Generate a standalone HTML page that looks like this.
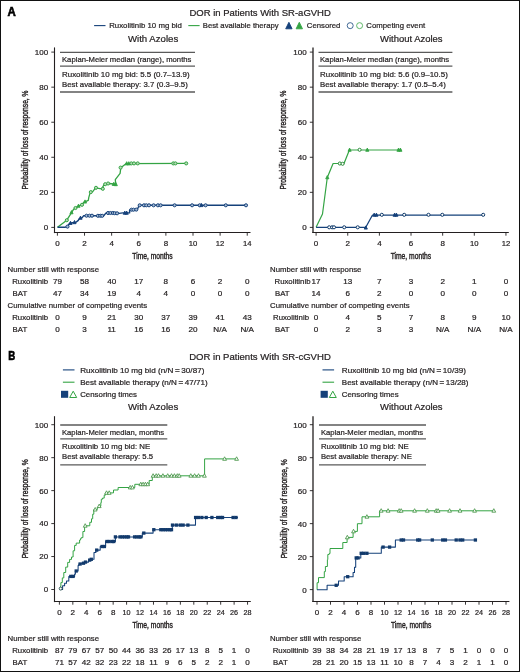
<!DOCTYPE html><html><head><meta charset="utf-8"><style>html,body{margin:0;padding:0;background:#fff;}svg{display:block;will-change:transform;}</style></head><body>
<svg width="520" height="672" viewBox="0 0 520 672" font-family='"Liberation Sans", sans-serif'>
<rect x="0" y="0" width="520" height="672" fill="#fff"/>
<rect x="0.5" y="0.5" width="519" height="671" fill="none" stroke="#111" stroke-width="1"/>
<text x="7.40" y="15.70" font-size="12.2" text-anchor="start" font-weight="bold" fill="#000" stroke="#000" stroke-width="0.6"  textLength="8.30" lengthAdjust="spacingAndGlyphs">A</text>
<text x="189.50" y="15.60" font-size="9.5" text-anchor="start" font-weight="normal" fill="#231f20" stroke="#231f20" stroke-width="0.22"  textLength="141.31" lengthAdjust="spacingAndGlyphs">DOR in Patients With SR-aGVHD</text>
<line x1="94.10" y1="25.60" x2="105.50" y2="25.60" stroke="#15417a" stroke-width="1.1"/>
<text x="109.20" y="27.90" font-size="8.1" text-anchor="start" font-weight="normal" fill="#231f20" stroke="#231f20" stroke-width="0.22"  textLength="72.70" lengthAdjust="spacingAndGlyphs">Ruxolitinib 10 mg bid</text>
<line x1="188.30" y1="25.60" x2="199.60" y2="25.60" stroke="#34a444" stroke-width="1.1"/>
<text x="202.80" y="27.90" font-size="8.1" text-anchor="start" font-weight="normal" fill="#231f20" stroke="#231f20" stroke-width="0.22"  textLength="75.80" lengthAdjust="spacingAndGlyphs">Best available therapy</text>
<path d="M285.71,28.80 L288.90,22.30 L292.08,28.80 Z" fill="#15417a" stroke="#15417a" stroke-width="0.9" stroke-linejoin="round"/>
<path d="M296.12,28.80 L299.30,22.30 L302.49,28.80 Z" fill="#34a444" stroke="#34a444" stroke-width="0.9" stroke-linejoin="round"/>
<text x="306.80" y="27.90" font-size="8.1" text-anchor="start" font-weight="normal" fill="#231f20" stroke="#231f20" stroke-width="0.22"  textLength="33.61" lengthAdjust="spacingAndGlyphs">Censored</text>
<circle cx="350.20" cy="25.65" r="3.0" fill="#fff" stroke="#2f5a8a" stroke-width="0.9"/>
<circle cx="359.60" cy="25.65" r="3.0" fill="#fff" stroke="#4fb05a" stroke-width="0.9"/>
<text x="366.30" y="27.90" font-size="8.1" text-anchor="start" font-weight="normal" fill="#231f20" stroke="#231f20" stroke-width="0.22"  textLength="58.90" lengthAdjust="spacingAndGlyphs">Competing event</text>
<text x="128.00" y="41.70" font-size="9.5" text-anchor="start" font-weight="normal" fill="#231f20" stroke="#231f20" stroke-width="0.22"  textLength="50.19" lengthAdjust="spacingAndGlyphs">With Azoles</text>
<text x="380.00" y="41.70" font-size="9.5" text-anchor="start" font-weight="normal" fill="#231f20" stroke="#231f20" stroke-width="0.22"  textLength="62.60" lengthAdjust="spacingAndGlyphs">Without Azoles</text>
<line x1="54.50" y1="47.40" x2="54.50" y2="233.10" stroke="#231f20" stroke-width="1.1"/>
<line x1="53.95" y1="232.50" x2="250.50" y2="232.50" stroke="#231f20" stroke-width="1.15"/>
<line x1="51.30" y1="227.40" x2="54.50" y2="227.40" stroke="#231f20" stroke-width="0.9"/>
<text x="48.10" y="230.30" font-size="8.0" text-anchor="end" font-weight="normal" fill="#231f20" stroke="#231f20" stroke-width="0.22" >0</text>
<line x1="51.30" y1="192.34" x2="54.50" y2="192.34" stroke="#231f20" stroke-width="0.9"/>
<text x="48.10" y="195.24" font-size="8.0" text-anchor="end" font-weight="normal" fill="#231f20" stroke="#231f20" stroke-width="0.22" >20</text>
<line x1="51.30" y1="157.28" x2="54.50" y2="157.28" stroke="#231f20" stroke-width="0.9"/>
<text x="48.10" y="160.18" font-size="8.0" text-anchor="end" font-weight="normal" fill="#231f20" stroke="#231f20" stroke-width="0.22" >40</text>
<line x1="51.30" y1="122.22" x2="54.50" y2="122.22" stroke="#231f20" stroke-width="0.9"/>
<text x="48.10" y="125.12" font-size="8.0" text-anchor="end" font-weight="normal" fill="#231f20" stroke="#231f20" stroke-width="0.22" >60</text>
<line x1="51.30" y1="87.16" x2="54.50" y2="87.16" stroke="#231f20" stroke-width="0.9"/>
<text x="48.10" y="90.06" font-size="8.0" text-anchor="end" font-weight="normal" fill="#231f20" stroke="#231f20" stroke-width="0.22" >80</text>
<line x1="51.30" y1="52.10" x2="54.50" y2="52.10" stroke="#231f20" stroke-width="0.9"/>
<text x="48.10" y="55.00" font-size="8.0" text-anchor="end" font-weight="normal" fill="#231f20" stroke="#231f20" stroke-width="0.22" >100</text>
<line x1="57.40" y1="232.50" x2="57.40" y2="235.70" stroke="#231f20" stroke-width="0.9"/>
<text x="57.40" y="245.65" font-size="8.0" text-anchor="middle" font-weight="normal" fill="#231f20" stroke="#231f20" stroke-width="0.22" >0</text>
<line x1="84.52" y1="232.50" x2="84.52" y2="235.70" stroke="#231f20" stroke-width="0.9"/>
<text x="84.52" y="245.65" font-size="8.0" text-anchor="middle" font-weight="normal" fill="#231f20" stroke="#231f20" stroke-width="0.22" >2</text>
<line x1="111.64" y1="232.50" x2="111.64" y2="235.70" stroke="#231f20" stroke-width="0.9"/>
<text x="111.64" y="245.65" font-size="8.0" text-anchor="middle" font-weight="normal" fill="#231f20" stroke="#231f20" stroke-width="0.22" >4</text>
<line x1="138.76" y1="232.50" x2="138.76" y2="235.70" stroke="#231f20" stroke-width="0.9"/>
<text x="138.76" y="245.65" font-size="8.0" text-anchor="middle" font-weight="normal" fill="#231f20" stroke="#231f20" stroke-width="0.22" >6</text>
<line x1="165.88" y1="232.50" x2="165.88" y2="235.70" stroke="#231f20" stroke-width="0.9"/>
<text x="165.88" y="245.65" font-size="8.0" text-anchor="middle" font-weight="normal" fill="#231f20" stroke="#231f20" stroke-width="0.22" >8</text>
<line x1="193.00" y1="232.50" x2="193.00" y2="235.70" stroke="#231f20" stroke-width="0.9"/>
<text x="193.00" y="245.65" font-size="8.0" text-anchor="middle" font-weight="normal" fill="#231f20" stroke="#231f20" stroke-width="0.22" textLength="8.54" lengthAdjust="spacingAndGlyphs">10</text>
<line x1="220.12" y1="232.50" x2="220.12" y2="235.70" stroke="#231f20" stroke-width="0.9"/>
<text x="220.12" y="245.65" font-size="8.0" text-anchor="middle" font-weight="normal" fill="#231f20" stroke="#231f20" stroke-width="0.22" textLength="8.54" lengthAdjust="spacingAndGlyphs">12</text>
<line x1="247.24" y1="232.50" x2="247.24" y2="235.70" stroke="#231f20" stroke-width="0.9"/>
<text x="247.24" y="245.65" font-size="8.0" text-anchor="middle" font-weight="normal" fill="#231f20" stroke="#231f20" stroke-width="0.22" textLength="8.54" lengthAdjust="spacingAndGlyphs">14</text>
<text x="152.50" y="258.70" font-size="8.8" text-anchor="middle" font-weight="normal" fill="#231f20" stroke="#231f20" stroke-width="0.4" textLength="40.4" lengthAdjust="spacingAndGlyphs">Time, months</text>
<g transform="translate(27.70,139.95) rotate(-90)">
<text x="0.00" y="0.00" font-size="8.5" text-anchor="middle" font-weight="normal" fill="#231f20" stroke="#231f20" stroke-width="0.4" textLength="99" lengthAdjust="spacingAndGlyphs">Probability of loss of response, %</text>
</g>
<line x1="313.00" y1="47.40" x2="313.00" y2="233.10" stroke="#231f20" stroke-width="1.3"/>
<line x1="312.35" y1="232.50" x2="508.80" y2="232.50" stroke="#231f20" stroke-width="1.15"/>
<line x1="309.80" y1="227.40" x2="313.00" y2="227.40" stroke="#231f20" stroke-width="0.9"/>
<text x="306.60" y="230.30" font-size="8.0" text-anchor="end" font-weight="normal" fill="#231f20" stroke="#231f20" stroke-width="0.22" >0</text>
<line x1="309.80" y1="192.34" x2="313.00" y2="192.34" stroke="#231f20" stroke-width="0.9"/>
<text x="306.60" y="195.24" font-size="8.0" text-anchor="end" font-weight="normal" fill="#231f20" stroke="#231f20" stroke-width="0.22" >20</text>
<line x1="309.80" y1="157.28" x2="313.00" y2="157.28" stroke="#231f20" stroke-width="0.9"/>
<text x="306.60" y="160.18" font-size="8.0" text-anchor="end" font-weight="normal" fill="#231f20" stroke="#231f20" stroke-width="0.22" >40</text>
<line x1="309.80" y1="122.22" x2="313.00" y2="122.22" stroke="#231f20" stroke-width="0.9"/>
<text x="306.60" y="125.12" font-size="8.0" text-anchor="end" font-weight="normal" fill="#231f20" stroke="#231f20" stroke-width="0.22" >60</text>
<line x1="309.80" y1="87.16" x2="313.00" y2="87.16" stroke="#231f20" stroke-width="0.9"/>
<text x="306.60" y="90.06" font-size="8.0" text-anchor="end" font-weight="normal" fill="#231f20" stroke="#231f20" stroke-width="0.22" >80</text>
<line x1="309.80" y1="52.10" x2="313.00" y2="52.10" stroke="#231f20" stroke-width="0.9"/>
<text x="306.60" y="55.00" font-size="8.0" text-anchor="end" font-weight="normal" fill="#231f20" stroke="#231f20" stroke-width="0.22" >100</text>
<line x1="316.10" y1="232.50" x2="316.10" y2="235.70" stroke="#231f20" stroke-width="0.9"/>
<text x="316.10" y="245.65" font-size="8.0" text-anchor="middle" font-weight="normal" fill="#231f20" stroke="#231f20" stroke-width="0.22" >0</text>
<line x1="347.74" y1="232.50" x2="347.74" y2="235.70" stroke="#231f20" stroke-width="0.9"/>
<text x="347.74" y="245.65" font-size="8.0" text-anchor="middle" font-weight="normal" fill="#231f20" stroke="#231f20" stroke-width="0.22" >2</text>
<line x1="379.38" y1="232.50" x2="379.38" y2="235.70" stroke="#231f20" stroke-width="0.9"/>
<text x="379.38" y="245.65" font-size="8.0" text-anchor="middle" font-weight="normal" fill="#231f20" stroke="#231f20" stroke-width="0.22" >4</text>
<line x1="411.02" y1="232.50" x2="411.02" y2="235.70" stroke="#231f20" stroke-width="0.9"/>
<text x="411.02" y="245.65" font-size="8.0" text-anchor="middle" font-weight="normal" fill="#231f20" stroke="#231f20" stroke-width="0.22" >6</text>
<line x1="442.66" y1="232.50" x2="442.66" y2="235.70" stroke="#231f20" stroke-width="0.9"/>
<text x="442.66" y="245.65" font-size="8.0" text-anchor="middle" font-weight="normal" fill="#231f20" stroke="#231f20" stroke-width="0.22" >8</text>
<line x1="474.30" y1="232.50" x2="474.30" y2="235.70" stroke="#231f20" stroke-width="0.9"/>
<text x="474.30" y="245.65" font-size="8.0" text-anchor="middle" font-weight="normal" fill="#231f20" stroke="#231f20" stroke-width="0.22" textLength="8.54" lengthAdjust="spacingAndGlyphs">10</text>
<line x1="505.94" y1="232.50" x2="505.94" y2="235.70" stroke="#231f20" stroke-width="0.9"/>
<text x="505.94" y="245.65" font-size="8.0" text-anchor="middle" font-weight="normal" fill="#231f20" stroke="#231f20" stroke-width="0.22" textLength="8.54" lengthAdjust="spacingAndGlyphs">12</text>
<text x="410.90" y="258.70" font-size="8.8" text-anchor="middle" font-weight="normal" fill="#231f20" stroke="#231f20" stroke-width="0.4" textLength="40.4" lengthAdjust="spacingAndGlyphs">Time, months</text>
<g transform="translate(286.40,139.95) rotate(-90)">
<text x="0.00" y="0.00" font-size="8.5" text-anchor="middle" font-weight="normal" fill="#231f20" stroke="#231f20" stroke-width="0.4" textLength="99" lengthAdjust="spacingAndGlyphs">Probability of loss of response, %</text>
</g>
<line x1="60.00" y1="52.30" x2="195.00" y2="52.30" stroke="#5a5a5a" stroke-width="1.3"/>
<line x1="60.00" y1="66.20" x2="195.00" y2="66.20" stroke="#5a5a5a" stroke-width="1.3"/>
<line x1="60.00" y1="92.00" x2="195.00" y2="92.00" stroke="#5a5a5a" stroke-width="1.3"/>
<text x="62.00" y="61.80" font-size="8.1" text-anchor="start" font-weight="normal" fill="#231f20" stroke="#231f20" stroke-width="0.22"  textLength="129.39" lengthAdjust="spacingAndGlyphs">Kaplan-Meier median (range), months</text>
<text x="62.00" y="76.90" font-size="8.1" text-anchor="start" font-weight="normal" fill="#231f20" stroke="#231f20" stroke-width="0.22"  textLength="127.60" lengthAdjust="spacingAndGlyphs">Ruxolitinib 10 mg bid: 5.5 (0.7–13.9)</text>
<text x="62.00" y="86.50" font-size="8.1" text-anchor="start" font-weight="normal" fill="#231f20" stroke="#231f20" stroke-width="0.22"  textLength="125.81" lengthAdjust="spacingAndGlyphs">Best available therapy: 3.7 (0.3–9.5)</text>
<line x1="318.50" y1="52.30" x2="452.40" y2="52.30" stroke="#5a5a5a" stroke-width="1.3"/>
<line x1="318.50" y1="66.20" x2="452.40" y2="66.20" stroke="#5a5a5a" stroke-width="1.3"/>
<line x1="318.50" y1="92.00" x2="452.40" y2="92.00" stroke="#5a5a5a" stroke-width="1.3"/>
<text x="320.00" y="61.80" font-size="8.1" text-anchor="start" font-weight="normal" fill="#231f20" stroke="#231f20" stroke-width="0.22"  textLength="129.19" lengthAdjust="spacingAndGlyphs">Kaplan-Meier median (range), months</text>
<text x="320.00" y="76.90" font-size="8.1" text-anchor="start" font-weight="normal" fill="#231f20" stroke="#231f20" stroke-width="0.22"  textLength="127.80" lengthAdjust="spacingAndGlyphs">Ruxolitinib 10 mg bid: 5.6 (0.9–10.5)</text>
<text x="320.00" y="86.50" font-size="8.1" text-anchor="start" font-weight="normal" fill="#231f20" stroke="#231f20" stroke-width="0.22"  textLength="125.81" lengthAdjust="spacingAndGlyphs">Best available therapy: 1.7 (0.5–5.4)</text>
<path d="M57.50,227.30 L66.80,220.20 L69.50,215.80 L73.70,209.20 L76.40,207.30 L79.10,205.80 L82.20,204.60 L83.70,202.30 L88.30,200.30 L88.80,197.40 L90.30,192.10 L92.70,191.70 L95.60,187.80 L98.50,188.30 L101.80,188.80 L104.20,184.40 L109.00,183.50 L113.80,184.00 L115.80,184.90 L115.30,179.60 L120.10,173.40 L120.60,169.10 L121.10,167.60 L126.30,163.60 L187.30,163.40" fill="none" stroke="#34a444" stroke-width="1.3" stroke-linejoin="round"/>
<path d="M57.50,227.30 L64.80,227.30 L67.50,226.50 L69.50,223.50 L72.50,222.70 L76.00,222.30 L78.30,220.40 L79.10,218.80 L82.20,217.70 L83.70,215.60 L103.70,215.80 L106.10,212.90 L119.00,213.40 L122.90,212.90 L129.60,212.90 L129.60,210.00 L137.30,209.50 L139.20,205.30 L246.00,205.30" fill="none" stroke="#15417a" stroke-width="1.4" stroke-linejoin="round"/>
<circle cx="66.80" cy="220.20" r="1.55" fill="#b9dcb9" stroke="#34a444" stroke-width="1.0"/>
<circle cx="75.50" cy="208.00" r="1.55" fill="#b9dcb9" stroke="#34a444" stroke-width="1.0"/>
<circle cx="82.00" cy="204.80" r="1.55" fill="#b9dcb9" stroke="#34a444" stroke-width="1.0"/>
<circle cx="90.80" cy="192.10" r="1.55" fill="#b9dcb9" stroke="#34a444" stroke-width="1.0"/>
<circle cx="96.00" cy="187.80" r="1.55" fill="#b9dcb9" stroke="#34a444" stroke-width="1.0"/>
<circle cx="102.80" cy="188.80" r="1.55" fill="#b9dcb9" stroke="#34a444" stroke-width="1.0"/>
<circle cx="105.20" cy="184.20" r="1.55" fill="#b9dcb9" stroke="#34a444" stroke-width="1.0"/>
<circle cx="108.10" cy="183.50" r="1.55" fill="#b9dcb9" stroke="#34a444" stroke-width="1.0"/>
<circle cx="120.60" cy="167.60" r="1.55" fill="#b9dcb9" stroke="#34a444" stroke-width="1.0"/>
<circle cx="131.30" cy="163.40" r="1.55" fill="#b9dcb9" stroke="#34a444" stroke-width="1.0"/>
<circle cx="134.00" cy="163.40" r="1.55" fill="#b9dcb9" stroke="#34a444" stroke-width="1.0"/>
<circle cx="137.70" cy="163.40" r="1.55" fill="#b9dcb9" stroke="#34a444" stroke-width="1.0"/>
<circle cx="173.30" cy="163.40" r="1.55" fill="#b9dcb9" stroke="#34a444" stroke-width="1.0"/>
<circle cx="175.40" cy="163.40" r="1.55" fill="#b9dcb9" stroke="#34a444" stroke-width="1.0"/>
<circle cx="186.20" cy="163.40" r="1.55" fill="#b9dcb9" stroke="#34a444" stroke-width="1.0"/>
<path d="M69.93,213.78 L71.50,210.58 L73.07,213.78 Z" fill="#34a444" stroke="#34a444" stroke-width="0.9" stroke-linejoin="round"/>
<path d="M76.93,207.28 L78.50,204.08 L80.07,207.28 Z" fill="#34a444" stroke="#34a444" stroke-width="0.9" stroke-linejoin="round"/>
<path d="M83.43,203.08 L85.00,199.88 L86.57,203.08 Z" fill="#34a444" stroke="#34a444" stroke-width="0.9" stroke-linejoin="round"/>
<path d="M112.23,185.48 L113.80,182.28 L115.37,185.48 Z" fill="#34a444" stroke="#34a444" stroke-width="0.9" stroke-linejoin="round"/>
<path d="M114.23,185.68 L115.80,182.48 L117.37,185.68 Z" fill="#34a444" stroke="#34a444" stroke-width="0.9" stroke-linejoin="round"/>
<path d="M125.13,164.88 L126.70,161.68 L128.27,164.88 Z" fill="#34a444" stroke="#34a444" stroke-width="0.9" stroke-linejoin="round"/>
<path d="M127.23,164.88 L128.80,161.68 L130.37,164.88 Z" fill="#34a444" stroke="#34a444" stroke-width="0.9" stroke-linejoin="round"/>
<circle cx="67.50" cy="226.60" r="1.55" fill="#a9bdd6" stroke="#15417a" stroke-width="1.0"/>
<circle cx="86.50" cy="215.70" r="1.55" fill="#a9bdd6" stroke="#15417a" stroke-width="1.0"/>
<circle cx="89.50" cy="215.70" r="1.55" fill="#a9bdd6" stroke="#15417a" stroke-width="1.0"/>
<circle cx="92.00" cy="215.70" r="1.55" fill="#a9bdd6" stroke="#15417a" stroke-width="1.0"/>
<circle cx="97.90" cy="215.80" r="1.55" fill="#a9bdd6" stroke="#15417a" stroke-width="1.0"/>
<circle cx="100.30" cy="215.80" r="1.55" fill="#a9bdd6" stroke="#15417a" stroke-width="1.0"/>
<circle cx="102.20" cy="215.80" r="1.55" fill="#a9bdd6" stroke="#15417a" stroke-width="1.0"/>
<circle cx="108.00" cy="213.00" r="1.55" fill="#a9bdd6" stroke="#15417a" stroke-width="1.0"/>
<circle cx="110.40" cy="213.00" r="1.55" fill="#a9bdd6" stroke="#15417a" stroke-width="1.0"/>
<circle cx="112.80" cy="213.00" r="1.55" fill="#a9bdd6" stroke="#15417a" stroke-width="1.0"/>
<circle cx="114.70" cy="213.20" r="1.55" fill="#a9bdd6" stroke="#15417a" stroke-width="1.0"/>
<circle cx="117.10" cy="213.30" r="1.55" fill="#a9bdd6" stroke="#15417a" stroke-width="1.0"/>
<circle cx="131.50" cy="209.70" r="1.55" fill="#a9bdd6" stroke="#15417a" stroke-width="1.0"/>
<circle cx="133.50" cy="209.70" r="1.55" fill="#a9bdd6" stroke="#15417a" stroke-width="1.0"/>
<circle cx="136.30" cy="209.60" r="1.55" fill="#a9bdd6" stroke="#15417a" stroke-width="1.0"/>
<circle cx="139.70" cy="205.30" r="1.55" fill="#a9bdd6" stroke="#15417a" stroke-width="1.0"/>
<circle cx="144.00" cy="205.30" r="1.55" fill="#a9bdd6" stroke="#15417a" stroke-width="1.0"/>
<circle cx="146.30" cy="205.30" r="1.55" fill="#a9bdd6" stroke="#15417a" stroke-width="1.0"/>
<circle cx="149.00" cy="205.30" r="1.55" fill="#a9bdd6" stroke="#15417a" stroke-width="1.0"/>
<circle cx="153.60" cy="205.30" r="1.55" fill="#a9bdd6" stroke="#15417a" stroke-width="1.0"/>
<circle cx="157.90" cy="205.30" r="1.55" fill="#a9bdd6" stroke="#15417a" stroke-width="1.0"/>
<circle cx="160.60" cy="205.30" r="1.55" fill="#a9bdd6" stroke="#15417a" stroke-width="1.0"/>
<circle cx="174.60" cy="205.30" r="1.55" fill="#a9bdd6" stroke="#15417a" stroke-width="1.0"/>
<circle cx="192.10" cy="205.30" r="1.55" fill="#a9bdd6" stroke="#15417a" stroke-width="1.0"/>
<circle cx="199.70" cy="205.30" r="1.55" fill="#a9bdd6" stroke="#15417a" stroke-width="1.0"/>
<circle cx="205.60" cy="205.30" r="1.55" fill="#a9bdd6" stroke="#15417a" stroke-width="1.0"/>
<circle cx="225.80" cy="205.30" r="1.55" fill="#a9bdd6" stroke="#15417a" stroke-width="1.0"/>
<circle cx="246.00" cy="205.30" r="1.55" fill="#a9bdd6" stroke="#15417a" stroke-width="1.0"/>
<path d="M68.93,224.48 L70.50,221.28 L72.07,224.48 Z" fill="#15417a" stroke="#15417a" stroke-width="0.9" stroke-linejoin="round"/>
<path d="M72.93,223.68 L74.50,220.48 L76.07,223.68 Z" fill="#15417a" stroke="#15417a" stroke-width="0.9" stroke-linejoin="round"/>
<path d="M78.93,219.28 L80.50,216.08 L82.07,219.28 Z" fill="#15417a" stroke="#15417a" stroke-width="0.9" stroke-linejoin="round"/>
<path d="M123.23,214.28 L124.80,211.08 L126.37,214.28 Z" fill="#15417a" stroke="#15417a" stroke-width="0.9" stroke-linejoin="round"/>
<path d="M125.13,214.28 L126.70,211.08 L128.27,214.28 Z" fill="#15417a" stroke="#15417a" stroke-width="0.9" stroke-linejoin="round"/>
<path d="M199.93,206.58 L201.50,203.38 L203.07,206.58 Z" fill="#15417a" stroke="#15417a" stroke-width="0.9" stroke-linejoin="round"/>
<path d="M316.10,227.30 L322.50,214.00 L327.30,177.50 L333.10,163.50 L344.00,163.50 L349.40,150.00 L401.30,150.00" fill="none" stroke="#34a444" stroke-width="1.2" stroke-linejoin="round"/>
<path d="M316.10,227.30 L365.80,227.30 L372.50,215.00 L483.20,215.00" fill="none" stroke="#15417a" stroke-width="1.25" stroke-linejoin="round"/>
<path d="M325.73,178.78 L327.30,175.58 L328.87,178.78 Z" fill="#34a444" stroke="#34a444" stroke-width="0.9" stroke-linejoin="round"/>
<circle cx="339.80" cy="163.50" r="1.55" fill="#fff" stroke="#2a8a38" stroke-width="1.0"/>
<circle cx="342.60" cy="163.80" r="1.55" fill="#fff" stroke="#2a8a38" stroke-width="1.0"/>
<path d="M348.03,151.28 L349.60,148.08 L351.17,151.28 Z" fill="#34a444" stroke="#34a444" stroke-width="0.9" stroke-linejoin="round"/>
<circle cx="359.60" cy="149.80" r="1.55" fill="#fff" stroke="#2a8a38" stroke-width="1.0"/>
<path d="M365.73,151.28 L367.30,148.08 L368.87,151.28 Z" fill="#34a444" stroke="#34a444" stroke-width="0.9" stroke-linejoin="round"/>
<path d="M396.93,151.28 L398.50,148.08 L400.07,151.28 Z" fill="#34a444" stroke="#34a444" stroke-width="0.9" stroke-linejoin="round"/>
<path d="M398.83,151.28 L400.40,148.08 L401.97,151.28 Z" fill="#34a444" stroke="#34a444" stroke-width="0.9" stroke-linejoin="round"/>
<circle cx="329.20" cy="227.30" r="1.55" fill="#fff" stroke="#0f3a6a" stroke-width="1.0"/>
<circle cx="332.10" cy="227.30" r="1.55" fill="#fff" stroke="#0f3a6a" stroke-width="1.0"/>
<circle cx="334.00" cy="227.30" r="1.55" fill="#fff" stroke="#0f3a6a" stroke-width="1.0"/>
<circle cx="344.20" cy="227.30" r="1.55" fill="#fff" stroke="#0f3a6a" stroke-width="1.0"/>
<circle cx="357.70" cy="227.30" r="1.55" fill="#fff" stroke="#0f3a6a" stroke-width="1.0"/>
<path d="M364.23,229.08 L365.80,225.88 L367.37,229.08 Z" fill="#15417a" stroke="#15417a" stroke-width="0.9" stroke-linejoin="round"/>
<path d="M372.63,216.28 L374.20,213.08 L375.77,216.28 Z" fill="#15417a" stroke="#15417a" stroke-width="0.9" stroke-linejoin="round"/>
<path d="M374.83,216.28 L376.40,213.08 L377.97,216.28 Z" fill="#15417a" stroke="#15417a" stroke-width="0.9" stroke-linejoin="round"/>
<circle cx="381.80" cy="214.80" r="1.55" fill="#fff" stroke="#0f3a6a" stroke-width="1.0"/>
<path d="M393.03,216.28 L394.60,213.08 L396.17,216.28 Z" fill="#15417a" stroke="#15417a" stroke-width="0.9" stroke-linejoin="round"/>
<path d="M394.83,216.28 L396.40,213.08 L397.97,216.28 Z" fill="#15417a" stroke="#15417a" stroke-width="0.9" stroke-linejoin="round"/>
<circle cx="404.20" cy="214.80" r="1.55" fill="#fff" stroke="#0f3a6a" stroke-width="1.0"/>
<circle cx="428.50" cy="214.80" r="1.55" fill="#fff" stroke="#0f3a6a" stroke-width="1.0"/>
<circle cx="442.30" cy="214.80" r="1.55" fill="#fff" stroke="#0f3a6a" stroke-width="1.0"/>
<circle cx="483.20" cy="214.80" r="1.55" fill="#fff" stroke="#0f3a6a" stroke-width="1.0"/>
<text x="7.60" y="271.50" font-size="8.1" text-anchor="start" font-weight="normal" fill="#231f20" stroke="#231f20" stroke-width="0.22" textLength="91.47" lengthAdjust="spacingAndGlyphs">Number still with response</text>
<text x="7.60" y="307.80" font-size="8.1" text-anchor="start" font-weight="normal" fill="#231f20" stroke="#231f20" stroke-width="0.22" textLength="139.61" lengthAdjust="spacingAndGlyphs">Cumulative number of competing events</text>
<text x="270.00" y="271.50" font-size="8.1" text-anchor="start" font-weight="normal" fill="#231f20" stroke="#231f20" stroke-width="0.22" textLength="91.47" lengthAdjust="spacingAndGlyphs">Number still with response</text>
<text x="270.00" y="307.80" font-size="8.1" text-anchor="start" font-weight="normal" fill="#231f20" stroke="#231f20" stroke-width="0.22" textLength="139.61" lengthAdjust="spacingAndGlyphs">Cumulative number of competing events</text>
<text x="12.20" y="283.70" font-size="8.1" text-anchor="start" font-weight="normal" fill="#231f20" stroke="#231f20" stroke-width="0.22" textLength="35.99" lengthAdjust="spacingAndGlyphs">Ruxolitinib</text>
<text x="57.40" y="283.70" font-size="8.1" text-anchor="middle" font-weight="normal" fill="#231f20" stroke="#231f20" stroke-width="0.22" >79</text>
<text x="84.52" y="283.70" font-size="8.1" text-anchor="middle" font-weight="normal" fill="#231f20" stroke="#231f20" stroke-width="0.22" >58</text>
<text x="111.64" y="283.70" font-size="8.1" text-anchor="middle" font-weight="normal" fill="#231f20" stroke="#231f20" stroke-width="0.22" >40</text>
<text x="138.76" y="283.70" font-size="8.1" text-anchor="middle" font-weight="normal" fill="#231f20" stroke="#231f20" stroke-width="0.22" >17</text>
<text x="165.88" y="283.70" font-size="8.1" text-anchor="middle" font-weight="normal" fill="#231f20" stroke="#231f20" stroke-width="0.22" >8</text>
<text x="193.00" y="283.70" font-size="8.1" text-anchor="middle" font-weight="normal" fill="#231f20" stroke="#231f20" stroke-width="0.22" >6</text>
<text x="220.12" y="283.70" font-size="8.1" text-anchor="middle" font-weight="normal" fill="#231f20" stroke="#231f20" stroke-width="0.22" >2</text>
<text x="247.24" y="283.70" font-size="8.1" text-anchor="middle" font-weight="normal" fill="#231f20" stroke="#231f20" stroke-width="0.22" >0</text>
<text x="12.60" y="295.60" font-size="8.1" text-anchor="start" font-weight="normal" fill="#231f20" stroke="#231f20" stroke-width="0.22" textLength="14.59" lengthAdjust="spacingAndGlyphs">BAT</text>
<text x="57.40" y="295.60" font-size="8.1" text-anchor="middle" font-weight="normal" fill="#231f20" stroke="#231f20" stroke-width="0.22" >47</text>
<text x="84.52" y="295.60" font-size="8.1" text-anchor="middle" font-weight="normal" fill="#231f20" stroke="#231f20" stroke-width="0.22" >34</text>
<text x="111.64" y="295.60" font-size="8.1" text-anchor="middle" font-weight="normal" fill="#231f20" stroke="#231f20" stroke-width="0.22" >19</text>
<text x="138.76" y="295.60" font-size="8.1" text-anchor="middle" font-weight="normal" fill="#231f20" stroke="#231f20" stroke-width="0.22" >4</text>
<text x="165.88" y="295.60" font-size="8.1" text-anchor="middle" font-weight="normal" fill="#231f20" stroke="#231f20" stroke-width="0.22" >4</text>
<text x="193.00" y="295.60" font-size="8.1" text-anchor="middle" font-weight="normal" fill="#231f20" stroke="#231f20" stroke-width="0.22" >0</text>
<text x="220.12" y="295.60" font-size="8.1" text-anchor="middle" font-weight="normal" fill="#231f20" stroke="#231f20" stroke-width="0.22" >0</text>
<text x="247.24" y="295.60" font-size="8.1" text-anchor="middle" font-weight="normal" fill="#231f20" stroke="#231f20" stroke-width="0.22" >0</text>
<text x="12.20" y="319.90" font-size="8.1" text-anchor="start" font-weight="normal" fill="#231f20" stroke="#231f20" stroke-width="0.22" textLength="35.99" lengthAdjust="spacingAndGlyphs">Ruxolitinib</text>
<text x="57.40" y="319.90" font-size="8.1" text-anchor="middle" font-weight="normal" fill="#231f20" stroke="#231f20" stroke-width="0.22" >0</text>
<text x="84.52" y="319.90" font-size="8.1" text-anchor="middle" font-weight="normal" fill="#231f20" stroke="#231f20" stroke-width="0.22" >9</text>
<text x="111.64" y="319.90" font-size="8.1" text-anchor="middle" font-weight="normal" fill="#231f20" stroke="#231f20" stroke-width="0.22" >21</text>
<text x="138.76" y="319.90" font-size="8.1" text-anchor="middle" font-weight="normal" fill="#231f20" stroke="#231f20" stroke-width="0.22" >30</text>
<text x="165.88" y="319.90" font-size="8.1" text-anchor="middle" font-weight="normal" fill="#231f20" stroke="#231f20" stroke-width="0.22" >37</text>
<text x="193.00" y="319.90" font-size="8.1" text-anchor="middle" font-weight="normal" fill="#231f20" stroke="#231f20" stroke-width="0.22" >39</text>
<text x="220.12" y="319.90" font-size="8.1" text-anchor="middle" font-weight="normal" fill="#231f20" stroke="#231f20" stroke-width="0.22" >41</text>
<text x="247.24" y="319.90" font-size="8.1" text-anchor="middle" font-weight="normal" fill="#231f20" stroke="#231f20" stroke-width="0.22" >43</text>
<text x="12.60" y="331.70" font-size="8.1" text-anchor="start" font-weight="normal" fill="#231f20" stroke="#231f20" stroke-width="0.22" textLength="14.59" lengthAdjust="spacingAndGlyphs">BAT</text>
<text x="57.40" y="331.70" font-size="8.1" text-anchor="middle" font-weight="normal" fill="#231f20" stroke="#231f20" stroke-width="0.22" >0</text>
<text x="84.52" y="331.70" font-size="8.1" text-anchor="middle" font-weight="normal" fill="#231f20" stroke="#231f20" stroke-width="0.22" >3</text>
<text x="111.64" y="331.70" font-size="8.1" text-anchor="middle" font-weight="normal" fill="#231f20" stroke="#231f20" stroke-width="0.22" >11</text>
<text x="138.76" y="331.70" font-size="8.1" text-anchor="middle" font-weight="normal" fill="#231f20" stroke="#231f20" stroke-width="0.22" >16</text>
<text x="165.88" y="331.70" font-size="8.1" text-anchor="middle" font-weight="normal" fill="#231f20" stroke="#231f20" stroke-width="0.22" >16</text>
<text x="193.00" y="331.70" font-size="8.1" text-anchor="middle" font-weight="normal" fill="#231f20" stroke="#231f20" stroke-width="0.22" >20</text>
<text x="220.12" y="331.70" font-size="8.1" text-anchor="middle" font-weight="normal" fill="#231f20" stroke="#231f20" stroke-width="0.22" >N/A</text>
<text x="247.24" y="331.70" font-size="8.1" text-anchor="middle" font-weight="normal" fill="#231f20" stroke="#231f20" stroke-width="0.22" >N/A</text>
<text x="274.50" y="283.70" font-size="8.1" text-anchor="start" font-weight="normal" fill="#231f20" stroke="#231f20" stroke-width="0.22" textLength="35.99" lengthAdjust="spacingAndGlyphs">Ruxolitinib</text>
<text x="316.10" y="283.70" font-size="8.1" text-anchor="middle" font-weight="normal" fill="#231f20" stroke="#231f20" stroke-width="0.22" >17</text>
<text x="347.74" y="283.70" font-size="8.1" text-anchor="middle" font-weight="normal" fill="#231f20" stroke="#231f20" stroke-width="0.22" >13</text>
<text x="379.38" y="283.70" font-size="8.1" text-anchor="middle" font-weight="normal" fill="#231f20" stroke="#231f20" stroke-width="0.22" >7</text>
<text x="411.02" y="283.70" font-size="8.1" text-anchor="middle" font-weight="normal" fill="#231f20" stroke="#231f20" stroke-width="0.22" >3</text>
<text x="442.66" y="283.70" font-size="8.1" text-anchor="middle" font-weight="normal" fill="#231f20" stroke="#231f20" stroke-width="0.22" >2</text>
<text x="474.30" y="283.70" font-size="8.1" text-anchor="middle" font-weight="normal" fill="#231f20" stroke="#231f20" stroke-width="0.22" >1</text>
<text x="505.94" y="283.70" font-size="8.1" text-anchor="middle" font-weight="normal" fill="#231f20" stroke="#231f20" stroke-width="0.22" >0</text>
<text x="275.00" y="295.60" font-size="8.1" text-anchor="start" font-weight="normal" fill="#231f20" stroke="#231f20" stroke-width="0.22" textLength="14.59" lengthAdjust="spacingAndGlyphs">BAT</text>
<text x="316.10" y="295.60" font-size="8.1" text-anchor="middle" font-weight="normal" fill="#231f20" stroke="#231f20" stroke-width="0.22" >14</text>
<text x="347.74" y="295.60" font-size="8.1" text-anchor="middle" font-weight="normal" fill="#231f20" stroke="#231f20" stroke-width="0.22" >6</text>
<text x="379.38" y="295.60" font-size="8.1" text-anchor="middle" font-weight="normal" fill="#231f20" stroke="#231f20" stroke-width="0.22" >2</text>
<text x="411.02" y="295.60" font-size="8.1" text-anchor="middle" font-weight="normal" fill="#231f20" stroke="#231f20" stroke-width="0.22" >0</text>
<text x="442.66" y="295.60" font-size="8.1" text-anchor="middle" font-weight="normal" fill="#231f20" stroke="#231f20" stroke-width="0.22" >0</text>
<text x="474.30" y="295.60" font-size="8.1" text-anchor="middle" font-weight="normal" fill="#231f20" stroke="#231f20" stroke-width="0.22" >0</text>
<text x="505.94" y="295.60" font-size="8.1" text-anchor="middle" font-weight="normal" fill="#231f20" stroke="#231f20" stroke-width="0.22" >0</text>
<text x="273.00" y="319.90" font-size="8.1" text-anchor="start" font-weight="normal" fill="#231f20" stroke="#231f20" stroke-width="0.22" textLength="35.99" lengthAdjust="spacingAndGlyphs">Ruxolitinib</text>
<text x="316.10" y="319.90" font-size="8.1" text-anchor="middle" font-weight="normal" fill="#231f20" stroke="#231f20" stroke-width="0.22" >0</text>
<text x="347.74" y="319.90" font-size="8.1" text-anchor="middle" font-weight="normal" fill="#231f20" stroke="#231f20" stroke-width="0.22" >4</text>
<text x="379.38" y="319.90" font-size="8.1" text-anchor="middle" font-weight="normal" fill="#231f20" stroke="#231f20" stroke-width="0.22" >5</text>
<text x="411.02" y="319.90" font-size="8.1" text-anchor="middle" font-weight="normal" fill="#231f20" stroke="#231f20" stroke-width="0.22" >7</text>
<text x="442.66" y="319.90" font-size="8.1" text-anchor="middle" font-weight="normal" fill="#231f20" stroke="#231f20" stroke-width="0.22" >8</text>
<text x="474.30" y="319.90" font-size="8.1" text-anchor="middle" font-weight="normal" fill="#231f20" stroke="#231f20" stroke-width="0.22" >9</text>
<text x="505.94" y="319.90" font-size="8.1" text-anchor="middle" font-weight="normal" fill="#231f20" stroke="#231f20" stroke-width="0.22" >10</text>
<text x="275.00" y="331.70" font-size="8.1" text-anchor="start" font-weight="normal" fill="#231f20" stroke="#231f20" stroke-width="0.22" textLength="14.59" lengthAdjust="spacingAndGlyphs">BAT</text>
<text x="316.10" y="331.70" font-size="8.1" text-anchor="middle" font-weight="normal" fill="#231f20" stroke="#231f20" stroke-width="0.22" >0</text>
<text x="347.74" y="331.70" font-size="8.1" text-anchor="middle" font-weight="normal" fill="#231f20" stroke="#231f20" stroke-width="0.22" >2</text>
<text x="379.38" y="331.70" font-size="8.1" text-anchor="middle" font-weight="normal" fill="#231f20" stroke="#231f20" stroke-width="0.22" >3</text>
<text x="411.02" y="331.70" font-size="8.1" text-anchor="middle" font-weight="normal" fill="#231f20" stroke="#231f20" stroke-width="0.22" >3</text>
<text x="442.66" y="331.70" font-size="8.1" text-anchor="middle" font-weight="normal" fill="#231f20" stroke="#231f20" stroke-width="0.22" >N/A</text>
<text x="474.30" y="331.70" font-size="8.1" text-anchor="middle" font-weight="normal" fill="#231f20" stroke="#231f20" stroke-width="0.22" >N/A</text>
<text x="505.94" y="331.70" font-size="8.1" text-anchor="middle" font-weight="normal" fill="#231f20" stroke="#231f20" stroke-width="0.22" >N/A</text>
<text x="8.30" y="360.20" font-size="12.2" text-anchor="start" font-weight="bold" fill="#000" stroke="#000" stroke-width="0.6"  textLength="7.00" lengthAdjust="spacingAndGlyphs">B</text>
<text x="189.20" y="359.80" font-size="9.5" text-anchor="start" font-weight="normal" fill="#231f20" stroke="#231f20" stroke-width="0.22"  textLength="141.59" lengthAdjust="spacingAndGlyphs">DOR in Patients With SR-cGVHD</text>
<line x1="62.90" y1="369.90" x2="74.50" y2="369.90" stroke="#15417a" stroke-width="1.1"/>
<text x="80.20" y="372.60" font-size="8.1" text-anchor="start" font-weight="normal" fill="#231f20" stroke="#231f20" stroke-width="0.22"  textLength="124.20" lengthAdjust="spacingAndGlyphs">Ruxolitinib 10 mg bid (n/N = 30/87)</text>
<line x1="62.90" y1="382.20" x2="74.50" y2="382.20" stroke="#34a444" stroke-width="1.1"/>
<text x="80.20" y="384.50" font-size="8.1" text-anchor="start" font-weight="normal" fill="#231f20" stroke="#231f20" stroke-width="0.22"  textLength="127.49" lengthAdjust="spacingAndGlyphs">Best available therapy (n/N = 47/71)</text>
<rect x="61.00" y="390.8" width="7.2" height="7.0" fill="#15417a"/>
<path d="M69.70,397.5 L73.20,391.2 L76.70,397.5 Z" fill="#fff" stroke="#34a444" stroke-width="1" stroke-linejoin="miter"/>
<text x="80.20" y="396.60" font-size="8.1" text-anchor="start" font-weight="normal" fill="#231f20" stroke="#231f20" stroke-width="0.22"  textLength="56.80" lengthAdjust="spacingAndGlyphs">Censoring times</text>
<line x1="322.50" y1="369.90" x2="334.10" y2="369.90" stroke="#15417a" stroke-width="1.1"/>
<text x="341.80" y="372.60" font-size="8.1" text-anchor="start" font-weight="normal" fill="#231f20" stroke="#231f20" stroke-width="0.22"  textLength="124.10" lengthAdjust="spacingAndGlyphs">Ruxolitinib 10 mg bid (n/N = 10/39)</text>
<line x1="322.50" y1="382.20" x2="334.10" y2="382.20" stroke="#34a444" stroke-width="1.1"/>
<text x="341.80" y="384.50" font-size="8.1" text-anchor="start" font-weight="normal" fill="#231f20" stroke="#231f20" stroke-width="0.22"  textLength="126.69" lengthAdjust="spacingAndGlyphs">Best available therapy (n/N = 13/28)</text>
<rect x="320.60" y="390.8" width="7.2" height="7.0" fill="#15417a"/>
<path d="M329.30,397.5 L332.80,391.2 L336.30,397.5 Z" fill="#fff" stroke="#34a444" stroke-width="1" stroke-linejoin="miter"/>
<text x="341.80" y="396.60" font-size="8.1" text-anchor="start" font-weight="normal" fill="#231f20" stroke="#231f20" stroke-width="0.22"  textLength="56.80" lengthAdjust="spacingAndGlyphs">Censoring times</text>
<text x="128.00" y="410.20" font-size="9.5" text-anchor="start" font-weight="normal" fill="#231f20" stroke="#231f20" stroke-width="0.22"  textLength="50.19" lengthAdjust="spacingAndGlyphs">With Azoles</text>
<text x="380.00" y="410.20" font-size="9.5" text-anchor="start" font-weight="normal" fill="#231f20" stroke="#231f20" stroke-width="0.22"  textLength="62.60" lengthAdjust="spacingAndGlyphs">Without Azoles</text>
<line x1="54.50" y1="416.20" x2="54.50" y2="602.10" stroke="#231f20" stroke-width="1.1"/>
<line x1="53.95" y1="601.50" x2="250.80" y2="601.50" stroke="#231f20" stroke-width="1.15"/>
<line x1="51.30" y1="589.50" x2="54.50" y2="589.50" stroke="#231f20" stroke-width="0.9"/>
<text x="48.10" y="592.40" font-size="8.0" text-anchor="end" font-weight="normal" fill="#231f20" stroke="#231f20" stroke-width="0.22" >0</text>
<line x1="51.30" y1="556.54" x2="54.50" y2="556.54" stroke="#231f20" stroke-width="0.9"/>
<text x="48.10" y="559.44" font-size="8.0" text-anchor="end" font-weight="normal" fill="#231f20" stroke="#231f20" stroke-width="0.22" >20</text>
<line x1="51.30" y1="523.58" x2="54.50" y2="523.58" stroke="#231f20" stroke-width="0.9"/>
<text x="48.10" y="526.48" font-size="8.0" text-anchor="end" font-weight="normal" fill="#231f20" stroke="#231f20" stroke-width="0.22" >40</text>
<line x1="51.30" y1="490.62" x2="54.50" y2="490.62" stroke="#231f20" stroke-width="0.9"/>
<text x="48.10" y="493.52" font-size="8.0" text-anchor="end" font-weight="normal" fill="#231f20" stroke="#231f20" stroke-width="0.22" >60</text>
<line x1="51.30" y1="457.66" x2="54.50" y2="457.66" stroke="#231f20" stroke-width="0.9"/>
<text x="48.10" y="460.56" font-size="8.0" text-anchor="end" font-weight="normal" fill="#231f20" stroke="#231f20" stroke-width="0.22" >80</text>
<line x1="51.30" y1="424.70" x2="54.50" y2="424.70" stroke="#231f20" stroke-width="0.9"/>
<text x="48.10" y="427.60" font-size="8.0" text-anchor="end" font-weight="normal" fill="#231f20" stroke="#231f20" stroke-width="0.22" >100</text>
<line x1="59.40" y1="601.50" x2="59.40" y2="604.70" stroke="#231f20" stroke-width="0.9"/>
<text x="59.40" y="614.65" font-size="8.0" text-anchor="middle" font-weight="normal" fill="#231f20" stroke="#231f20" stroke-width="0.22" >0</text>
<line x1="72.84" y1="601.50" x2="72.84" y2="604.70" stroke="#231f20" stroke-width="0.9"/>
<text x="72.84" y="614.65" font-size="8.0" text-anchor="middle" font-weight="normal" fill="#231f20" stroke="#231f20" stroke-width="0.22" >2</text>
<line x1="86.28" y1="601.50" x2="86.28" y2="604.70" stroke="#231f20" stroke-width="0.9"/>
<text x="86.28" y="614.65" font-size="8.0" text-anchor="middle" font-weight="normal" fill="#231f20" stroke="#231f20" stroke-width="0.22" >4</text>
<line x1="99.72" y1="601.50" x2="99.72" y2="604.70" stroke="#231f20" stroke-width="0.9"/>
<text x="99.72" y="614.65" font-size="8.0" text-anchor="middle" font-weight="normal" fill="#231f20" stroke="#231f20" stroke-width="0.22" >6</text>
<line x1="113.16" y1="601.50" x2="113.16" y2="604.70" stroke="#231f20" stroke-width="0.9"/>
<text x="113.16" y="614.65" font-size="8.0" text-anchor="middle" font-weight="normal" fill="#231f20" stroke="#231f20" stroke-width="0.22" >8</text>
<line x1="126.60" y1="601.50" x2="126.60" y2="604.70" stroke="#231f20" stroke-width="0.9"/>
<text x="126.60" y="614.65" font-size="8.0" text-anchor="middle" font-weight="normal" fill="#231f20" stroke="#231f20" stroke-width="0.22" textLength="8.01" lengthAdjust="spacingAndGlyphs">10</text>
<line x1="140.04" y1="601.50" x2="140.04" y2="604.70" stroke="#231f20" stroke-width="0.9"/>
<text x="140.04" y="614.65" font-size="8.0" text-anchor="middle" font-weight="normal" fill="#231f20" stroke="#231f20" stroke-width="0.22" textLength="8.01" lengthAdjust="spacingAndGlyphs">12</text>
<line x1="153.48" y1="601.50" x2="153.48" y2="604.70" stroke="#231f20" stroke-width="0.9"/>
<text x="153.48" y="614.65" font-size="8.0" text-anchor="middle" font-weight="normal" fill="#231f20" stroke="#231f20" stroke-width="0.22" textLength="8.01" lengthAdjust="spacingAndGlyphs">14</text>
<line x1="166.92" y1="601.50" x2="166.92" y2="604.70" stroke="#231f20" stroke-width="0.9"/>
<text x="166.92" y="614.65" font-size="8.0" text-anchor="middle" font-weight="normal" fill="#231f20" stroke="#231f20" stroke-width="0.22" textLength="8.01" lengthAdjust="spacingAndGlyphs">16</text>
<line x1="180.36" y1="601.50" x2="180.36" y2="604.70" stroke="#231f20" stroke-width="0.9"/>
<text x="180.36" y="614.65" font-size="8.0" text-anchor="middle" font-weight="normal" fill="#231f20" stroke="#231f20" stroke-width="0.22" textLength="8.01" lengthAdjust="spacingAndGlyphs">18</text>
<line x1="193.80" y1="601.50" x2="193.80" y2="604.70" stroke="#231f20" stroke-width="0.9"/>
<text x="193.80" y="614.65" font-size="8.0" text-anchor="middle" font-weight="normal" fill="#231f20" stroke="#231f20" stroke-width="0.22" textLength="8.01" lengthAdjust="spacingAndGlyphs">20</text>
<line x1="207.24" y1="601.50" x2="207.24" y2="604.70" stroke="#231f20" stroke-width="0.9"/>
<text x="207.24" y="614.65" font-size="8.0" text-anchor="middle" font-weight="normal" fill="#231f20" stroke="#231f20" stroke-width="0.22" textLength="8.01" lengthAdjust="spacingAndGlyphs">22</text>
<line x1="220.68" y1="601.50" x2="220.68" y2="604.70" stroke="#231f20" stroke-width="0.9"/>
<text x="220.68" y="614.65" font-size="8.0" text-anchor="middle" font-weight="normal" fill="#231f20" stroke="#231f20" stroke-width="0.22" textLength="8.01" lengthAdjust="spacingAndGlyphs">24</text>
<line x1="234.12" y1="601.50" x2="234.12" y2="604.70" stroke="#231f20" stroke-width="0.9"/>
<text x="234.12" y="614.65" font-size="8.0" text-anchor="middle" font-weight="normal" fill="#231f20" stroke="#231f20" stroke-width="0.22" textLength="8.01" lengthAdjust="spacingAndGlyphs">26</text>
<line x1="247.56" y1="601.50" x2="247.56" y2="604.70" stroke="#231f20" stroke-width="0.9"/>
<text x="247.56" y="614.65" font-size="8.0" text-anchor="middle" font-weight="normal" fill="#231f20" stroke="#231f20" stroke-width="0.22" textLength="8.01" lengthAdjust="spacingAndGlyphs">28</text>
<text x="152.65" y="627.70" font-size="8.8" text-anchor="middle" font-weight="normal" fill="#231f20" stroke="#231f20" stroke-width="0.4" textLength="40.4" lengthAdjust="spacingAndGlyphs">Time, months</text>
<g transform="translate(28.00,508.85) rotate(-90)">
<text x="0.00" y="0.00" font-size="8.5" text-anchor="middle" font-weight="normal" fill="#231f20" stroke="#231f20" stroke-width="0.4" textLength="99" lengthAdjust="spacingAndGlyphs">Probability of loss of response, %</text>
</g>
<line x1="313.00" y1="416.20" x2="313.00" y2="602.10" stroke="#231f20" stroke-width="1.3"/>
<line x1="312.35" y1="601.50" x2="509.40" y2="601.50" stroke="#231f20" stroke-width="1.15"/>
<line x1="309.80" y1="589.60" x2="313.00" y2="589.60" stroke="#231f20" stroke-width="0.9"/>
<text x="306.60" y="592.50" font-size="8.0" text-anchor="end" font-weight="normal" fill="#231f20" stroke="#231f20" stroke-width="0.22" >0</text>
<line x1="309.80" y1="556.62" x2="313.00" y2="556.62" stroke="#231f20" stroke-width="0.9"/>
<text x="306.60" y="559.52" font-size="8.0" text-anchor="end" font-weight="normal" fill="#231f20" stroke="#231f20" stroke-width="0.22" >20</text>
<line x1="309.80" y1="523.64" x2="313.00" y2="523.64" stroke="#231f20" stroke-width="0.9"/>
<text x="306.60" y="526.54" font-size="8.0" text-anchor="end" font-weight="normal" fill="#231f20" stroke="#231f20" stroke-width="0.22" >40</text>
<line x1="309.80" y1="490.66" x2="313.00" y2="490.66" stroke="#231f20" stroke-width="0.9"/>
<text x="306.60" y="493.56" font-size="8.0" text-anchor="end" font-weight="normal" fill="#231f20" stroke="#231f20" stroke-width="0.22" >60</text>
<line x1="309.80" y1="457.68" x2="313.00" y2="457.68" stroke="#231f20" stroke-width="0.9"/>
<text x="306.60" y="460.58" font-size="8.0" text-anchor="end" font-weight="normal" fill="#231f20" stroke="#231f20" stroke-width="0.22" >80</text>
<line x1="309.80" y1="424.70" x2="313.00" y2="424.70" stroke="#231f20" stroke-width="0.9"/>
<text x="306.60" y="427.60" font-size="8.0" text-anchor="end" font-weight="normal" fill="#231f20" stroke="#231f20" stroke-width="0.22" >100</text>
<line x1="317.00" y1="601.50" x2="317.00" y2="604.70" stroke="#231f20" stroke-width="0.9"/>
<text x="317.00" y="614.65" font-size="8.0" text-anchor="middle" font-weight="normal" fill="#231f20" stroke="#231f20" stroke-width="0.22" >0</text>
<line x1="330.50" y1="601.50" x2="330.50" y2="604.70" stroke="#231f20" stroke-width="0.9"/>
<text x="330.50" y="614.65" font-size="8.0" text-anchor="middle" font-weight="normal" fill="#231f20" stroke="#231f20" stroke-width="0.22" >2</text>
<line x1="344.00" y1="601.50" x2="344.00" y2="604.70" stroke="#231f20" stroke-width="0.9"/>
<text x="344.00" y="614.65" font-size="8.0" text-anchor="middle" font-weight="normal" fill="#231f20" stroke="#231f20" stroke-width="0.22" >4</text>
<line x1="357.50" y1="601.50" x2="357.50" y2="604.70" stroke="#231f20" stroke-width="0.9"/>
<text x="357.50" y="614.65" font-size="8.0" text-anchor="middle" font-weight="normal" fill="#231f20" stroke="#231f20" stroke-width="0.22" >6</text>
<line x1="371.00" y1="601.50" x2="371.00" y2="604.70" stroke="#231f20" stroke-width="0.9"/>
<text x="371.00" y="614.65" font-size="8.0" text-anchor="middle" font-weight="normal" fill="#231f20" stroke="#231f20" stroke-width="0.22" >8</text>
<line x1="384.50" y1="601.50" x2="384.50" y2="604.70" stroke="#231f20" stroke-width="0.9"/>
<text x="384.50" y="614.65" font-size="8.0" text-anchor="middle" font-weight="normal" fill="#231f20" stroke="#231f20" stroke-width="0.22" textLength="8.01" lengthAdjust="spacingAndGlyphs">10</text>
<line x1="398.00" y1="601.50" x2="398.00" y2="604.70" stroke="#231f20" stroke-width="0.9"/>
<text x="398.00" y="614.65" font-size="8.0" text-anchor="middle" font-weight="normal" fill="#231f20" stroke="#231f20" stroke-width="0.22" textLength="8.01" lengthAdjust="spacingAndGlyphs">12</text>
<line x1="411.50" y1="601.50" x2="411.50" y2="604.70" stroke="#231f20" stroke-width="0.9"/>
<text x="411.50" y="614.65" font-size="8.0" text-anchor="middle" font-weight="normal" fill="#231f20" stroke="#231f20" stroke-width="0.22" textLength="8.01" lengthAdjust="spacingAndGlyphs">14</text>
<line x1="425.00" y1="601.50" x2="425.00" y2="604.70" stroke="#231f20" stroke-width="0.9"/>
<text x="425.00" y="614.65" font-size="8.0" text-anchor="middle" font-weight="normal" fill="#231f20" stroke="#231f20" stroke-width="0.22" textLength="8.01" lengthAdjust="spacingAndGlyphs">16</text>
<line x1="438.50" y1="601.50" x2="438.50" y2="604.70" stroke="#231f20" stroke-width="0.9"/>
<text x="438.50" y="614.65" font-size="8.0" text-anchor="middle" font-weight="normal" fill="#231f20" stroke="#231f20" stroke-width="0.22" textLength="8.01" lengthAdjust="spacingAndGlyphs">18</text>
<line x1="452.00" y1="601.50" x2="452.00" y2="604.70" stroke="#231f20" stroke-width="0.9"/>
<text x="452.00" y="614.65" font-size="8.0" text-anchor="middle" font-weight="normal" fill="#231f20" stroke="#231f20" stroke-width="0.22" textLength="8.01" lengthAdjust="spacingAndGlyphs">20</text>
<line x1="465.50" y1="601.50" x2="465.50" y2="604.70" stroke="#231f20" stroke-width="0.9"/>
<text x="465.50" y="614.65" font-size="8.0" text-anchor="middle" font-weight="normal" fill="#231f20" stroke="#231f20" stroke-width="0.22" textLength="8.01" lengthAdjust="spacingAndGlyphs">22</text>
<line x1="479.00" y1="601.50" x2="479.00" y2="604.70" stroke="#231f20" stroke-width="0.9"/>
<text x="479.00" y="614.65" font-size="8.0" text-anchor="middle" font-weight="normal" fill="#231f20" stroke="#231f20" stroke-width="0.22" textLength="8.01" lengthAdjust="spacingAndGlyphs">24</text>
<line x1="492.50" y1="601.50" x2="492.50" y2="604.70" stroke="#231f20" stroke-width="0.9"/>
<text x="492.50" y="614.65" font-size="8.0" text-anchor="middle" font-weight="normal" fill="#231f20" stroke="#231f20" stroke-width="0.22" textLength="8.01" lengthAdjust="spacingAndGlyphs">26</text>
<line x1="506.00" y1="601.50" x2="506.00" y2="604.70" stroke="#231f20" stroke-width="0.9"/>
<text x="506.00" y="614.65" font-size="8.0" text-anchor="middle" font-weight="normal" fill="#231f20" stroke="#231f20" stroke-width="0.22" textLength="8.01" lengthAdjust="spacingAndGlyphs">28</text>
<text x="411.20" y="627.70" font-size="8.8" text-anchor="middle" font-weight="normal" fill="#231f20" stroke="#231f20" stroke-width="0.4" textLength="40.4" lengthAdjust="spacingAndGlyphs">Time, months</text>
<g transform="translate(286.70,508.85) rotate(-90)">
<text x="0.00" y="0.00" font-size="8.5" text-anchor="middle" font-weight="normal" fill="#231f20" stroke="#231f20" stroke-width="0.4" textLength="99" lengthAdjust="spacingAndGlyphs">Probability of loss of response, %</text>
</g>
<line x1="60.20" y1="425.00" x2="167.30" y2="425.00" stroke="#5a5a5a" stroke-width="1.3"/>
<line x1="60.20" y1="438.80" x2="167.30" y2="438.80" stroke="#5a5a5a" stroke-width="1.3"/>
<line x1="60.20" y1="464.80" x2="167.30" y2="464.80" stroke="#5a5a5a" stroke-width="1.3"/>
<text x="62.00" y="434.60" font-size="8.1" text-anchor="start" font-weight="normal" fill="#231f20" stroke="#231f20" stroke-width="0.22"  textLength="102.20" lengthAdjust="spacingAndGlyphs">Kaplan-Meier median, months</text>
<text x="62.00" y="449.10" font-size="8.1" text-anchor="start" font-weight="normal" fill="#231f20" stroke="#231f20" stroke-width="0.22"  textLength="88.20" lengthAdjust="spacingAndGlyphs">Ruxolitinib 10 mg bid: NE</text>
<text x="62.00" y="459.20" font-size="8.1" text-anchor="start" font-weight="normal" fill="#231f20" stroke="#231f20" stroke-width="0.22"  textLength="91.10" lengthAdjust="spacingAndGlyphs">Best available therapy: 5.5</text>
<line x1="319.00" y1="425.00" x2="426.00" y2="425.00" stroke="#5a5a5a" stroke-width="1.3"/>
<line x1="319.00" y1="438.80" x2="426.00" y2="438.80" stroke="#5a5a5a" stroke-width="1.3"/>
<line x1="319.00" y1="464.80" x2="426.00" y2="464.80" stroke="#5a5a5a" stroke-width="1.3"/>
<text x="320.90" y="434.60" font-size="8.1" text-anchor="start" font-weight="normal" fill="#231f20" stroke="#231f20" stroke-width="0.22"  textLength="102.30" lengthAdjust="spacingAndGlyphs">Kaplan-Meier median, months</text>
<text x="320.90" y="449.10" font-size="8.1" text-anchor="start" font-weight="normal" fill="#231f20" stroke="#231f20" stroke-width="0.22"  textLength="87.90" lengthAdjust="spacingAndGlyphs">Ruxolitinib 10 mg bid: NE</text>
<text x="320.90" y="459.20" font-size="8.1" text-anchor="start" font-weight="normal" fill="#231f20" stroke="#231f20" stroke-width="0.22"  textLength="90.90" lengthAdjust="spacingAndGlyphs">Best available therapy: NE</text>
<path d="M60.30,589.40 L60.50,589.40 L60.50,586.40 L60.90,586.40 L60.90,582.60 L62.30,582.60 L62.30,577.90 L63.80,577.90 L63.80,572.50 L65.70,572.50 L65.70,567.10 L67.70,567.10 L67.70,562.40 L69.60,562.40 L69.60,559.40 L71.50,559.40 L71.50,557.00 L73.10,557.00 L73.10,550.80 L74.60,550.80 L74.60,545.40 L76.20,545.40 L76.20,543.10 L79.60,543.10 L79.60,540.00 L80.60,540.00 L80.60,538.50 L81.30,538.50 L81.30,537.60 L82.90,537.60 L82.90,531.50 L84.60,531.50 L84.60,525.80 L89.80,525.80 L89.80,522.30 L91.50,522.30 L91.50,518.80 L92.70,518.80 L92.70,514.20 L93.80,514.20 L93.80,509.60 L97.30,509.60 L97.30,507.30 L99.00,507.30 L99.00,506.20 L100.80,506.20 L100.80,502.70 L101.30,502.70 L101.30,499.20 L102.50,499.20 L102.50,498.10 L104.20,498.10 L104.20,495.20 L105.40,495.20 L105.40,492.90 L113.50,492.90 L113.50,490.00 L118.10,490.00 L118.10,487.50 L134.80,487.50 L134.80,484.30 L149.20,484.30 L149.20,480.50 L152.30,480.50 L152.30,475.80 L204.60,475.80 L204.60,458.90 L237.30,458.90 L237.30,458.90" fill="none" stroke="#34a444" stroke-width="1.0" stroke-linejoin="round"/>
<path d="M60.50,589.40 L62.60,589.40 L62.60,585.70 L64.60,585.70 L64.60,583.30 L66.50,583.30 L66.50,581.00 L68.80,581.00 L68.80,576.40 L74.60,576.40 L74.60,574.10 L75.40,574.10 L75.40,571.00 L78.10,571.00 L78.10,565.50 L78.90,565.50 L78.90,564.00 L81.20,564.00 L81.20,563.20 L84.30,563.20 L84.30,562.10 L88.60,562.10 L88.60,560.10 L90.50,560.10 L90.50,559.30 L94.00,559.30 L94.00,552.40 L95.90,552.40 L95.90,550.10 L100.20,550.10 L100.20,546.50 L105.60,546.50 L105.60,541.50 L115.40,541.50 L115.40,536.90 L142.30,536.90 L142.30,533.10 L153.10,533.10 L153.10,529.70 L172.30,529.70 L172.30,525.10 L195.50,525.10 L195.50,517.50 L237.90,517.50 L237.90,517.50" fill="none" stroke="#15417a" stroke-width="1.05" stroke-linejoin="round"/>
<path d="M83.30,527.20 L85.20,523.70 L87.10,527.20 Z" fill="#fff" stroke="#3f8f3f" stroke-width="0.8"/>
<path d="M93.30,511.00 L95.20,507.50 L97.10,511.00 Z" fill="#fff" stroke="#3f8f3f" stroke-width="0.8"/>
<path d="M97.30,507.60 L99.20,504.10 L101.10,507.60 Z" fill="#fff" stroke="#3f8f3f" stroke-width="0.8"/>
<path d="M104.60,494.30 L106.50,490.80 L108.40,494.30 Z" fill="#fff" stroke="#3f8f3f" stroke-width="0.8"/>
<path d="M107.30,494.30 L109.20,490.80 L111.10,494.30 Z" fill="#fff" stroke="#3f8f3f" stroke-width="0.8"/>
<path d="M128.30,488.90 L130.20,485.40 L132.10,488.90 Z" fill="#fff" stroke="#3f8f3f" stroke-width="0.8"/>
<path d="M130.50,488.90 L132.40,485.40 L134.30,488.90 Z" fill="#fff" stroke="#3f8f3f" stroke-width="0.8"/>
<path d="M138.90,485.70 L140.80,482.20 L142.70,485.70 Z" fill="#fff" stroke="#3f8f3f" stroke-width="0.8"/>
<path d="M141.20,485.70 L143.10,482.20 L145.00,485.70 Z" fill="#fff" stroke="#3f8f3f" stroke-width="0.8"/>
<path d="M143.50,485.70 L145.40,482.20 L147.30,485.70 Z" fill="#fff" stroke="#3f8f3f" stroke-width="0.8"/>
<path d="M145.80,485.70 L147.70,482.20 L149.60,485.70 Z" fill="#fff" stroke="#3f8f3f" stroke-width="0.8"/>
<path d="M151.20,477.20 L153.10,473.70 L155.00,477.20 Z" fill="#fff" stroke="#3f8f3f" stroke-width="0.8"/>
<path d="M154.30,477.20 L156.20,473.70 L158.10,477.20 Z" fill="#fff" stroke="#3f8f3f" stroke-width="0.8"/>
<path d="M156.60,477.20 L158.50,473.70 L160.40,477.20 Z" fill="#fff" stroke="#3f8f3f" stroke-width="0.8"/>
<path d="M161.00,477.20 L162.90,473.70 L164.80,477.20 Z" fill="#fff" stroke="#3f8f3f" stroke-width="0.8"/>
<path d="M165.80,477.20 L167.70,473.70 L169.60,477.20 Z" fill="#fff" stroke="#3f8f3f" stroke-width="0.8"/>
<path d="M169.60,477.20 L171.50,473.70 L173.40,477.20 Z" fill="#fff" stroke="#3f8f3f" stroke-width="0.8"/>
<path d="M172.50,477.20 L174.40,473.70 L176.30,477.20 Z" fill="#fff" stroke="#3f8f3f" stroke-width="0.8"/>
<path d="M175.40,477.20 L177.30,473.70 L179.20,477.20 Z" fill="#fff" stroke="#3f8f3f" stroke-width="0.8"/>
<path d="M177.30,477.20 L179.20,473.70 L181.10,477.20 Z" fill="#fff" stroke="#3f8f3f" stroke-width="0.8"/>
<path d="M188.90,477.20 L190.80,473.70 L192.70,477.20 Z" fill="#fff" stroke="#3f8f3f" stroke-width="0.8"/>
<path d="M192.70,477.20 L194.60,473.70 L196.50,477.20 Z" fill="#fff" stroke="#3f8f3f" stroke-width="0.8"/>
<path d="M196.60,477.20 L198.50,473.70 L200.40,477.20 Z" fill="#fff" stroke="#3f8f3f" stroke-width="0.8"/>
<path d="M222.70,460.30 L224.60,456.80 L226.50,460.30 Z" fill="#fff" stroke="#3f8f3f" stroke-width="0.8"/>
<path d="M234.70,460.30 L236.60,456.80 L238.50,460.30 Z" fill="#fff" stroke="#3f8f3f" stroke-width="0.8"/>
<path d="M202.50,477.20 L204.40,473.70 L206.30,477.20 Z" fill="#fff" stroke="#3f8f3f" stroke-width="0.8"/>
<rect x="69.15" y="574.75" width="3.3" height="3.3" fill="#123a6c"/>
<rect x="71.45" y="574.75" width="3.3" height="3.3" fill="#123a6c"/>
<rect x="74.55" y="569.35" width="3.3" height="3.3" fill="#123a6c"/>
<rect x="78.45" y="562.35" width="3.3" height="3.3" fill="#123a6c"/>
<rect x="81.85" y="561.55" width="3.3" height="3.3" fill="#123a6c"/>
<rect x="83.85" y="560.45" width="3.3" height="3.3" fill="#123a6c"/>
<rect x="88.05" y="558.45" width="3.3" height="3.3" fill="#123a6c"/>
<rect x="89.65" y="557.65" width="3.3" height="3.3" fill="#123a6c"/>
<rect x="95.05" y="548.45" width="3.3" height="3.3" fill="#123a6c"/>
<rect x="100.35" y="544.85" width="3.3" height="3.3" fill="#123a6c"/>
<rect x="102.75" y="544.85" width="3.3" height="3.3" fill="#123a6c"/>
<rect x="105.25" y="539.85" width="3.3" height="3.3" fill="#123a6c"/>
<rect x="107.55" y="539.85" width="3.3" height="3.3" fill="#123a6c"/>
<rect x="110.65" y="539.85" width="3.3" height="3.3" fill="#123a6c"/>
<rect x="112.15" y="539.85" width="3.3" height="3.3" fill="#123a6c"/>
<rect x="113.75" y="535.25" width="3.3" height="3.3" fill="#123a6c"/>
<rect x="118.35" y="535.25" width="3.3" height="3.3" fill="#123a6c"/>
<rect x="120.65" y="535.25" width="3.3" height="3.3" fill="#123a6c"/>
<rect x="122.95" y="535.25" width="3.3" height="3.3" fill="#123a6c"/>
<rect x="125.25" y="535.25" width="3.3" height="3.3" fill="#123a6c"/>
<rect x="126.85" y="535.25" width="3.3" height="3.3" fill="#123a6c"/>
<rect x="132.95" y="535.25" width="3.3" height="3.3" fill="#123a6c"/>
<rect x="135.25" y="535.25" width="3.3" height="3.3" fill="#123a6c"/>
<rect x="137.55" y="535.25" width="3.3" height="3.3" fill="#123a6c"/>
<rect x="139.15" y="535.25" width="3.3" height="3.3" fill="#123a6c"/>
<rect x="142.15" y="531.45" width="3.3" height="3.3" fill="#123a6c"/>
<rect x="152.15" y="528.05" width="3.3" height="3.3" fill="#123a6c"/>
<rect x="159.15" y="528.05" width="3.3" height="3.3" fill="#123a6c"/>
<rect x="161.45" y="528.05" width="3.3" height="3.3" fill="#123a6c"/>
<rect x="163.75" y="528.05" width="3.3" height="3.3" fill="#123a6c"/>
<rect x="166.05" y="528.05" width="3.3" height="3.3" fill="#123a6c"/>
<rect x="168.35" y="528.05" width="3.3" height="3.3" fill="#123a6c"/>
<rect x="169.85" y="528.05" width="3.3" height="3.3" fill="#123a6c"/>
<rect x="170.85" y="523.45" width="3.3" height="3.3" fill="#123a6c"/>
<rect x="174.65" y="523.45" width="3.3" height="3.3" fill="#123a6c"/>
<rect x="178.55" y="523.45" width="3.3" height="3.3" fill="#123a6c"/>
<rect x="181.45" y="523.45" width="3.3" height="3.3" fill="#123a6c"/>
<rect x="186.25" y="523.45" width="3.3" height="3.3" fill="#123a6c"/>
<rect x="193.95" y="515.85" width="3.3" height="3.3" fill="#123a6c"/>
<rect x="196.85" y="515.85" width="3.3" height="3.3" fill="#123a6c"/>
<rect x="200.25" y="515.85" width="3.3" height="3.3" fill="#123a6c"/>
<rect x="204.55" y="515.85" width="3.3" height="3.3" fill="#123a6c"/>
<rect x="210.25" y="515.85" width="3.3" height="3.3" fill="#123a6c"/>
<rect x="216.05" y="515.85" width="3.3" height="3.3" fill="#123a6c"/>
<rect x="218.95" y="515.85" width="3.3" height="3.3" fill="#123a6c"/>
<rect x="220.85" y="515.85" width="3.3" height="3.3" fill="#123a6c"/>
<rect x="231.45" y="515.85" width="3.3" height="3.3" fill="#123a6c"/>
<rect x="234.35" y="515.85" width="3.3" height="3.3" fill="#123a6c"/>
<circle cx="60.7" cy="588.6" r="1.5" fill="#fff" stroke="#1f4a4a" stroke-width="0.9"/>
<path d="M317.00,589.70 L317.10,589.70 L317.10,582.70 L318.50,582.70 L318.50,577.60 L324.30,577.60 L324.30,571.60 L325.40,571.60 L325.40,566.50 L327.40,566.50 L327.40,559.60 L327.80,559.60 L327.80,554.50 L329.10,554.50 L329.10,553.60 L330.00,553.60 L330.00,548.50 L342.80,548.50 L342.80,542.50 L347.10,542.50 L347.10,537.40 L353.10,537.40 L353.10,531.40 L357.40,531.40 L357.40,523.70 L362.00,523.70 L362.00,516.80 L379.60,516.80 L379.60,510.80 L494.60,510.80 L494.60,510.80" fill="none" stroke="#34a444" stroke-width="1.0" stroke-linejoin="round"/>
<path d="M317.00,589.70 L327.10,589.70 L327.10,585.30 L338.50,585.30 L338.50,581.00 L344.20,581.00 L344.20,576.70 L353.10,576.70 L353.10,572.50 L354.50,572.50 L354.50,567.30 L355.70,567.30 L355.70,557.90 L360.80,557.90 L360.80,553.30 L381.30,553.30 L381.30,547.10 L395.40,547.10 L395.40,540.00 L476.20,540.00 L476.20,540.00" fill="none" stroke="#15417a" stroke-width="1.05" stroke-linejoin="round"/>
<path d="M345.40,538.80 L347.30,535.30 L349.20,538.80 Z" fill="#fff" stroke="#3f8f3f" stroke-width="0.8"/>
<path d="M351.60,532.80 L353.50,529.30 L355.40,532.80 Z" fill="#fff" stroke="#3f8f3f" stroke-width="0.8"/>
<path d="M365.00,518.20 L366.90,514.70 L368.80,518.20 Z" fill="#fff" stroke="#3f8f3f" stroke-width="0.8"/>
<path d="M379.30,512.20 L381.20,508.70 L383.10,512.20 Z" fill="#fff" stroke="#3f8f3f" stroke-width="0.8"/>
<path d="M386.20,512.20 L388.10,508.70 L390.00,512.20 Z" fill="#fff" stroke="#3f8f3f" stroke-width="0.8"/>
<path d="M397.30,512.20 L399.20,508.70 L401.10,512.20 Z" fill="#fff" stroke="#3f8f3f" stroke-width="0.8"/>
<path d="M399.30,512.20 L401.20,508.70 L403.10,512.20 Z" fill="#fff" stroke="#3f8f3f" stroke-width="0.8"/>
<path d="M412.70,512.20 L414.60,508.70 L416.50,512.20 Z" fill="#fff" stroke="#3f8f3f" stroke-width="0.8"/>
<path d="M425.40,512.20 L427.30,508.70 L429.20,512.20 Z" fill="#fff" stroke="#3f8f3f" stroke-width="0.8"/>
<path d="M434.30,512.20 L436.20,508.70 L438.10,512.20 Z" fill="#fff" stroke="#3f8f3f" stroke-width="0.8"/>
<path d="M436.20,512.20 L438.10,508.70 L440.00,512.20 Z" fill="#fff" stroke="#3f8f3f" stroke-width="0.8"/>
<path d="M447.70,512.20 L449.60,508.70 L451.50,512.20 Z" fill="#fff" stroke="#3f8f3f" stroke-width="0.8"/>
<path d="M458.10,512.20 L460.00,508.70 L461.90,512.20 Z" fill="#fff" stroke="#3f8f3f" stroke-width="0.8"/>
<path d="M472.70,512.20 L474.60,508.70 L476.50,512.20 Z" fill="#fff" stroke="#3f8f3f" stroke-width="0.8"/>
<path d="M491.90,512.20 L493.80,508.70 L495.70,512.20 Z" fill="#fff" stroke="#3f8f3f" stroke-width="0.8"/>
<rect x="334.55" y="583.65" width="3.3" height="3.3" fill="#123a6c"/>
<rect x="346.05" y="575.05" width="3.3" height="3.3" fill="#123a6c"/>
<rect x="354.55" y="556.25" width="3.3" height="3.3" fill="#123a6c"/>
<rect x="356.45" y="556.25" width="3.3" height="3.3" fill="#123a6c"/>
<rect x="359.55" y="551.65" width="3.3" height="3.3" fill="#123a6c"/>
<rect x="362.15" y="551.65" width="3.3" height="3.3" fill="#123a6c"/>
<rect x="365.25" y="551.65" width="3.3" height="3.3" fill="#123a6c"/>
<rect x="381.45" y="545.45" width="3.3" height="3.3" fill="#123a6c"/>
<rect x="387.95" y="545.45" width="3.3" height="3.3" fill="#123a6c"/>
<rect x="399.55" y="538.35" width="3.3" height="3.3" fill="#123a6c"/>
<rect x="401.85" y="538.35" width="3.3" height="3.3" fill="#123a6c"/>
<rect x="416.05" y="538.35" width="3.3" height="3.3" fill="#123a6c"/>
<rect x="417.95" y="538.35" width="3.3" height="3.3" fill="#123a6c"/>
<rect x="430.65" y="538.35" width="3.3" height="3.3" fill="#123a6c"/>
<rect x="441.05" y="538.35" width="3.3" height="3.3" fill="#123a6c"/>
<rect x="443.75" y="538.35" width="3.3" height="3.3" fill="#123a6c"/>
<rect x="454.55" y="538.35" width="3.3" height="3.3" fill="#123a6c"/>
<rect x="458.35" y="538.35" width="3.3" height="3.3" fill="#123a6c"/>
<rect x="461.05" y="538.35" width="3.3" height="3.3" fill="#123a6c"/>
<rect x="473.75" y="538.35" width="3.3" height="3.3" fill="#123a6c"/>
<text x="7.60" y="640.50" font-size="8.1" text-anchor="start" font-weight="normal" fill="#231f20" stroke="#231f20" stroke-width="0.22" textLength="91.47" lengthAdjust="spacingAndGlyphs">Number still with response</text>
<text x="269.90" y="640.50" font-size="8.1" text-anchor="start" font-weight="normal" fill="#231f20" stroke="#231f20" stroke-width="0.22" textLength="91.47" lengthAdjust="spacingAndGlyphs">Number still with response</text>
<text x="12.20" y="652.80" font-size="8.1" text-anchor="start" font-weight="normal" fill="#231f20" stroke="#231f20" stroke-width="0.22" textLength="35.99" lengthAdjust="spacingAndGlyphs">Ruxolitinib</text>
<text x="59.40" y="652.80" font-size="8.1" text-anchor="middle" font-weight="normal" fill="#231f20" stroke="#231f20" stroke-width="0.22" >87</text>
<text x="72.84" y="652.80" font-size="8.1" text-anchor="middle" font-weight="normal" fill="#231f20" stroke="#231f20" stroke-width="0.22" >79</text>
<text x="86.28" y="652.80" font-size="8.1" text-anchor="middle" font-weight="normal" fill="#231f20" stroke="#231f20" stroke-width="0.22" >67</text>
<text x="99.72" y="652.80" font-size="8.1" text-anchor="middle" font-weight="normal" fill="#231f20" stroke="#231f20" stroke-width="0.22" >57</text>
<text x="113.16" y="652.80" font-size="8.1" text-anchor="middle" font-weight="normal" fill="#231f20" stroke="#231f20" stroke-width="0.22" >50</text>
<text x="126.60" y="652.80" font-size="8.1" text-anchor="middle" font-weight="normal" fill="#231f20" stroke="#231f20" stroke-width="0.22" >44</text>
<text x="140.04" y="652.80" font-size="8.1" text-anchor="middle" font-weight="normal" fill="#231f20" stroke="#231f20" stroke-width="0.22" >36</text>
<text x="153.48" y="652.80" font-size="8.1" text-anchor="middle" font-weight="normal" fill="#231f20" stroke="#231f20" stroke-width="0.22" >33</text>
<text x="166.92" y="652.80" font-size="8.1" text-anchor="middle" font-weight="normal" fill="#231f20" stroke="#231f20" stroke-width="0.22" >26</text>
<text x="180.36" y="652.80" font-size="8.1" text-anchor="middle" font-weight="normal" fill="#231f20" stroke="#231f20" stroke-width="0.22" >17</text>
<text x="193.80" y="652.80" font-size="8.1" text-anchor="middle" font-weight="normal" fill="#231f20" stroke="#231f20" stroke-width="0.22" >13</text>
<text x="207.24" y="652.80" font-size="8.1" text-anchor="middle" font-weight="normal" fill="#231f20" stroke="#231f20" stroke-width="0.22" >8</text>
<text x="220.68" y="652.80" font-size="8.1" text-anchor="middle" font-weight="normal" fill="#231f20" stroke="#231f20" stroke-width="0.22" >5</text>
<text x="234.12" y="652.80" font-size="8.1" text-anchor="middle" font-weight="normal" fill="#231f20" stroke="#231f20" stroke-width="0.22" >1</text>
<text x="247.56" y="652.80" font-size="8.1" text-anchor="middle" font-weight="normal" fill="#231f20" stroke="#231f20" stroke-width="0.22" >0</text>
<text x="12.60" y="664.90" font-size="8.1" text-anchor="start" font-weight="normal" fill="#231f20" stroke="#231f20" stroke-width="0.22" textLength="14.59" lengthAdjust="spacingAndGlyphs">BAT</text>
<text x="59.40" y="664.90" font-size="8.1" text-anchor="middle" font-weight="normal" fill="#231f20" stroke="#231f20" stroke-width="0.22" >71</text>
<text x="72.84" y="664.90" font-size="8.1" text-anchor="middle" font-weight="normal" fill="#231f20" stroke="#231f20" stroke-width="0.22" >57</text>
<text x="86.28" y="664.90" font-size="8.1" text-anchor="middle" font-weight="normal" fill="#231f20" stroke="#231f20" stroke-width="0.22" >42</text>
<text x="99.72" y="664.90" font-size="8.1" text-anchor="middle" font-weight="normal" fill="#231f20" stroke="#231f20" stroke-width="0.22" >32</text>
<text x="113.16" y="664.90" font-size="8.1" text-anchor="middle" font-weight="normal" fill="#231f20" stroke="#231f20" stroke-width="0.22" >23</text>
<text x="126.60" y="664.90" font-size="8.1" text-anchor="middle" font-weight="normal" fill="#231f20" stroke="#231f20" stroke-width="0.22" >22</text>
<text x="140.04" y="664.90" font-size="8.1" text-anchor="middle" font-weight="normal" fill="#231f20" stroke="#231f20" stroke-width="0.22" >18</text>
<text x="153.48" y="664.90" font-size="8.1" text-anchor="middle" font-weight="normal" fill="#231f20" stroke="#231f20" stroke-width="0.22" >11</text>
<text x="166.92" y="664.90" font-size="8.1" text-anchor="middle" font-weight="normal" fill="#231f20" stroke="#231f20" stroke-width="0.22" >9</text>
<text x="180.36" y="664.90" font-size="8.1" text-anchor="middle" font-weight="normal" fill="#231f20" stroke="#231f20" stroke-width="0.22" >6</text>
<text x="193.80" y="664.90" font-size="8.1" text-anchor="middle" font-weight="normal" fill="#231f20" stroke="#231f20" stroke-width="0.22" >5</text>
<text x="207.24" y="664.90" font-size="8.1" text-anchor="middle" font-weight="normal" fill="#231f20" stroke="#231f20" stroke-width="0.22" >2</text>
<text x="220.68" y="664.90" font-size="8.1" text-anchor="middle" font-weight="normal" fill="#231f20" stroke="#231f20" stroke-width="0.22" >2</text>
<text x="234.12" y="664.90" font-size="8.1" text-anchor="middle" font-weight="normal" fill="#231f20" stroke="#231f20" stroke-width="0.22" >1</text>
<text x="247.56" y="664.90" font-size="8.1" text-anchor="middle" font-weight="normal" fill="#231f20" stroke="#231f20" stroke-width="0.22" >0</text>
<text x="272.70" y="652.80" font-size="8.1" text-anchor="start" font-weight="normal" fill="#231f20" stroke="#231f20" stroke-width="0.22" textLength="35.99" lengthAdjust="spacingAndGlyphs">Ruxolitinib</text>
<text x="317.00" y="652.80" font-size="8.1" text-anchor="middle" font-weight="normal" fill="#231f20" stroke="#231f20" stroke-width="0.22" >39</text>
<text x="330.50" y="652.80" font-size="8.1" text-anchor="middle" font-weight="normal" fill="#231f20" stroke="#231f20" stroke-width="0.22" >38</text>
<text x="344.00" y="652.80" font-size="8.1" text-anchor="middle" font-weight="normal" fill="#231f20" stroke="#231f20" stroke-width="0.22" >34</text>
<text x="357.50" y="652.80" font-size="8.1" text-anchor="middle" font-weight="normal" fill="#231f20" stroke="#231f20" stroke-width="0.22" >28</text>
<text x="371.00" y="652.80" font-size="8.1" text-anchor="middle" font-weight="normal" fill="#231f20" stroke="#231f20" stroke-width="0.22" >21</text>
<text x="384.50" y="652.80" font-size="8.1" text-anchor="middle" font-weight="normal" fill="#231f20" stroke="#231f20" stroke-width="0.22" >19</text>
<text x="398.00" y="652.80" font-size="8.1" text-anchor="middle" font-weight="normal" fill="#231f20" stroke="#231f20" stroke-width="0.22" >17</text>
<text x="411.50" y="652.80" font-size="8.1" text-anchor="middle" font-weight="normal" fill="#231f20" stroke="#231f20" stroke-width="0.22" >13</text>
<text x="425.00" y="652.80" font-size="8.1" text-anchor="middle" font-weight="normal" fill="#231f20" stroke="#231f20" stroke-width="0.22" >8</text>
<text x="438.50" y="652.80" font-size="8.1" text-anchor="middle" font-weight="normal" fill="#231f20" stroke="#231f20" stroke-width="0.22" >7</text>
<text x="452.00" y="652.80" font-size="8.1" text-anchor="middle" font-weight="normal" fill="#231f20" stroke="#231f20" stroke-width="0.22" >5</text>
<text x="465.50" y="652.80" font-size="8.1" text-anchor="middle" font-weight="normal" fill="#231f20" stroke="#231f20" stroke-width="0.22" >1</text>
<text x="479.00" y="652.80" font-size="8.1" text-anchor="middle" font-weight="normal" fill="#231f20" stroke="#231f20" stroke-width="0.22" >0</text>
<text x="492.50" y="652.80" font-size="8.1" text-anchor="middle" font-weight="normal" fill="#231f20" stroke="#231f20" stroke-width="0.22" >0</text>
<text x="506.00" y="652.80" font-size="8.1" text-anchor="middle" font-weight="normal" fill="#231f20" stroke="#231f20" stroke-width="0.22" >0</text>
<text x="273.10" y="664.90" font-size="8.1" text-anchor="start" font-weight="normal" fill="#231f20" stroke="#231f20" stroke-width="0.22" textLength="14.59" lengthAdjust="spacingAndGlyphs">BAT</text>
<text x="317.00" y="664.90" font-size="8.1" text-anchor="middle" font-weight="normal" fill="#231f20" stroke="#231f20" stroke-width="0.22" >28</text>
<text x="330.50" y="664.90" font-size="8.1" text-anchor="middle" font-weight="normal" fill="#231f20" stroke="#231f20" stroke-width="0.22" >21</text>
<text x="344.00" y="664.90" font-size="8.1" text-anchor="middle" font-weight="normal" fill="#231f20" stroke="#231f20" stroke-width="0.22" >20</text>
<text x="357.50" y="664.90" font-size="8.1" text-anchor="middle" font-weight="normal" fill="#231f20" stroke="#231f20" stroke-width="0.22" >15</text>
<text x="371.00" y="664.90" font-size="8.1" text-anchor="middle" font-weight="normal" fill="#231f20" stroke="#231f20" stroke-width="0.22" >13</text>
<text x="384.50" y="664.90" font-size="8.1" text-anchor="middle" font-weight="normal" fill="#231f20" stroke="#231f20" stroke-width="0.22" >11</text>
<text x="398.00" y="664.90" font-size="8.1" text-anchor="middle" font-weight="normal" fill="#231f20" stroke="#231f20" stroke-width="0.22" >10</text>
<text x="411.50" y="664.90" font-size="8.1" text-anchor="middle" font-weight="normal" fill="#231f20" stroke="#231f20" stroke-width="0.22" >8</text>
<text x="425.00" y="664.90" font-size="8.1" text-anchor="middle" font-weight="normal" fill="#231f20" stroke="#231f20" stroke-width="0.22" >7</text>
<text x="438.50" y="664.90" font-size="8.1" text-anchor="middle" font-weight="normal" fill="#231f20" stroke="#231f20" stroke-width="0.22" >4</text>
<text x="452.00" y="664.90" font-size="8.1" text-anchor="middle" font-weight="normal" fill="#231f20" stroke="#231f20" stroke-width="0.22" >3</text>
<text x="465.50" y="664.90" font-size="8.1" text-anchor="middle" font-weight="normal" fill="#231f20" stroke="#231f20" stroke-width="0.22" >2</text>
<text x="479.00" y="664.90" font-size="8.1" text-anchor="middle" font-weight="normal" fill="#231f20" stroke="#231f20" stroke-width="0.22" >1</text>
<text x="492.50" y="664.90" font-size="8.1" text-anchor="middle" font-weight="normal" fill="#231f20" stroke="#231f20" stroke-width="0.22" >1</text>
<text x="506.00" y="664.90" font-size="8.1" text-anchor="middle" font-weight="normal" fill="#231f20" stroke="#231f20" stroke-width="0.22" >0</text>
</svg></body></html>
